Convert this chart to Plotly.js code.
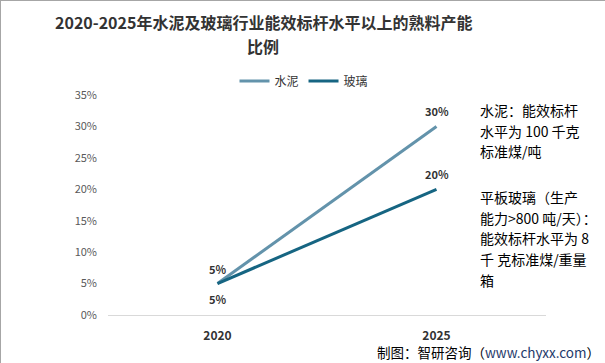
<!DOCTYPE html>
<html>
<head>
<meta charset="utf-8">
<script src="https://cdn.plot.ly/plotly-3.0.1.min.js"></script>
<style>
html,body{margin:0;padding:0;background:#fff;}
#chart{width:605px;height:363px;box-sizing:border-box;border:1px solid #a6a6a6;}
</style>
</head>
<body>
<div id="chart"></div>
<script>
const years = ['2020', '2025'];
const cement = [5, 30];
const glass = [5, 20];
const seriesNames = ['水泥', '玻璃'];
const yTicks = [0, 5, 10, 15, 20, 25, 30, 35];
const titleLines = ['2020-2025年水泥及玻璃行业能效标杆水平以上的熟料产能', '比例'];
const noteLines = ['水泥：能效标杆', '水平为 100 千克', '标准煤/吨', '', '平板玻璃（生产', '能力>800 吨/天）：', '能效标杆水平为 8', '千 克标准煤/重量', '箱'];

const font = '"Noto Sans CJK SC", "Noto Sans", sans-serif';
const labelFont = {family: font, size: 11, color: '#333333'};
const colors = ['#6393ab', '#166582'];

const traces = [
  {x: years, y: cement, name: seriesNames[0], type: 'scatter', mode: 'lines',
   line: {color: colors[0], width: 3}, hoverinfo: 'none'},
  {x: years, y: glass, name: seriesNames[1], type: 'scatter', mode: 'lines',
   line: {color: colors[1], width: 3}, hoverinfo: 'none'}
];

const annotations = [];
// data labels (x given as category index)
cement.forEach((v, i) => annotations.push({
  x: i, y: v, xref: 'x', yref: 'y', text: '<b>' + v + '%</b>', showarrow: false,
  yshift: 15, font: labelFont
}));
glass.forEach((v, i) => annotations.push({
  x: i, y: v, xref: 'x', yref: 'y', text: '<b>' + v + '%</b>', showarrow: false,
  yshift: i === 0 ? -15 : 15, font: labelFont
}));
// title lines
titleLines.forEach((t, i) => annotations.push({
  xref: 'paper', yref: 'paper', x: (262 - 107) / 438, y: (314 - (21 + i * 24)) / 220,
  xanchor: 'center', yanchor: 'middle', showarrow: false, text: '<b>' + t + '</b>',
  font: {family: font, size: 16, color: '#333333'}
}));
// side note lines
const noteY = [109, 130, 150, 0, 196, 217, 237, 258, 279];
noteLines.forEach((t, i) => {
  if (!t) return;
  annotations.push({
    xref: 'paper', yref: 'paper', x: (477 - 107) / 438, y: (314 - noteY[i]) / 220,
    xanchor: 'left', yanchor: 'middle', showarrow: false, text: t,
    font: {family: font, size: 14, color: '#000000'}
  });
});
// footer
annotations.push({
  xref: 'paper', yref: 'paper', x: (601 - 107) / 438, y: -(351 - 314) / 220,
  xanchor: 'right', yanchor: 'middle', showarrow: false,
  text: '制图：智研咨询（<span style="color:#1f3a6b">www.chyxx.com</span>）',
  font: {family: font, size: 13.5, color: '#000000'}
});

const layout = {
  width: 605, height: 363,
  margin: {l: 107, r: 60, t: 94, b: 49},
  paper_bgcolor: '#ffffff', plot_bgcolor: '#ffffff',
  font: {family: font},
  showlegend: true,
  legend: {
    orientation: 'h', x: (303 - 107) / 438, xanchor: 'center', y: (314 - 80) / 220, yanchor: 'middle',
    font: {family: font, size: 12, color: '#333333'}, itemwidth: 30
  },
  xaxis: {
    type: 'category', range: [-0.5, 1.5],
    showline: true, linecolor: '#d9d9d9', linewidth: 1,
    showgrid: false, zeroline: false, ticks: '',
    tickfont: {family: font, size: 12, color: '#333333', weight: 'bold'},
    ticklabelstandoff: 10
  },
  yaxis: {
    range: [0, 35], tickvals: yTicks, ticktext: yTicks.map(v => v + '%'),
    showgrid: false, zeroline: false, showline: false, ticks: '',
    tickfont: {family: font, size: 11, color: '#595959'}, ticklabelstandoff: 10
  },
  annotations: annotations
};

Plotly.newPlot('chart', traces, layout, {displayModeBar: false, staticPlot: true});
</script>
</body>
</html>
